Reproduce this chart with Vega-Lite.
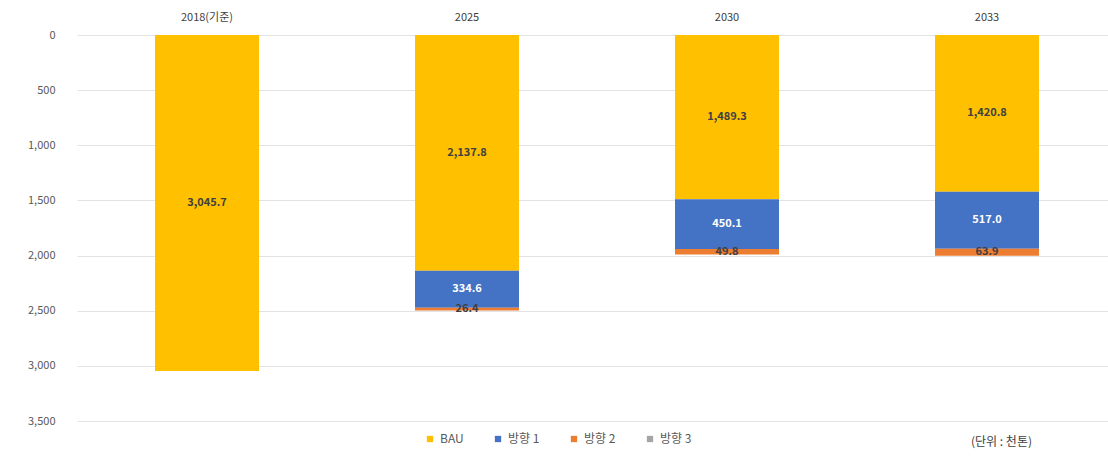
{
  "$schema": "https://vega.github.io/schema/vega-lite/v6.json",
  "width": 1040,
  "height": 386,
  "autosize": "none",
  "padding": {"left": 77, "top": 35, "right": 0, "bottom": 35},
  "background": "white",
  "config": {"font": "Noto Sans CJK KR", "view": {"stroke": null}},
  "title": {"text": "(단위 : 천톤)", "orient": "bottom", "anchor": "end", "offset": -8, "dx": -85, "fontSize": 12, "fontWeight": "normal", "color": "#404040"},
  "data": {"values": [
    {"year": "2018(기준)", "series": "BAU", "ord": 1, "value": 3045.7},
    {"year": "2025", "series": "BAU", "ord": 1, "value": 2137.8},
    {"year": "2025", "series": "방향 1", "ord": 2, "value": 334.6},
    {"year": "2025", "series": "방향 2", "ord": 3, "value": 26.4},
    {"year": "2030", "series": "BAU", "ord": 1, "value": 1489.3},
    {"year": "2030", "series": "방향 1", "ord": 2, "value": 450.1},
    {"year": "2030", "series": "방향 2", "ord": 3, "value": 49.8},
    {"year": "2033", "series": "BAU", "ord": 1, "value": 1420.8},
    {"year": "2033", "series": "방향 1", "ord": 2, "value": 517.0},
    {"year": "2033", "series": "방향 2", "ord": 3, "value": 63.9}
  ]},
  "transform": [
    {"stack": "value", "groupby": ["year"], "sort": [{"field": "ord", "order": "ascending"}], "as": ["v0", "v1"]},
    {"calculate": "(datum.v0 + datum.v1) / 2", "as": "mid"}
  ],
  "encoding": {
    "x": {"field": "year", "type": "nominal", "sort": null,
      "scale": {"paddingInner": 0.6, "paddingOuter": 0.3},
      "axis": {"orient": "top", "title": null, "domain": false, "ticks": false, "labelAngle": 0, "labelPadding": 13, "labelFontSize": 11, "labelColor": "#404040"}}
  },
  "layer": [
    {
      "mark": {"type": "bar"},
      "encoding": {
        "y": {"field": "v0", "type": "quantitative",
          "scale": {"domain": [0, 3500], "reverse": true, "nice": false},
          "axis": {"title": null, "domain": false, "ticks": false, "values": [0, 500, 1000, 1500, 2000, 2500, 3000, 3500], "format": ",.0f", "labelOverlap": false, "labelPadding": 22, "labelFontSize": 11, "labelColor": "#595959", "gridColor": "#e3e3e3"}},
        "y2": {"field": "v1"},
        "color": {"field": "series", "type": "nominal",
          "scale": {"domain": ["BAU", "방향 1", "방향 2", "방향 3"], "range": ["#FFC000", "#4472C4", "#ED7D31", "#A5A5A5"]},
          "legend": {"title": null, "orient": "none", "direction": "horizontal", "legendX": 347, "legendY": 398, "symbolType": "square", "symbolSize": 40, "labelFontSize": 12, "labelColor": "#595959", "columnPadding": 28}}
      }
    },
    {
      "mark": {"type": "text", "fontSize": 11, "fontWeight": "bold"},
      "encoding": {
        "y": {"field": "mid", "type": "quantitative"},
        "text": {"field": "value", "type": "quantitative", "format": ",.1f"},
        "color": {"condition": {"test": "datum.series === '방향 1'", "value": "white"}, "value": "#404040"}
      }
    }
  ]
}
